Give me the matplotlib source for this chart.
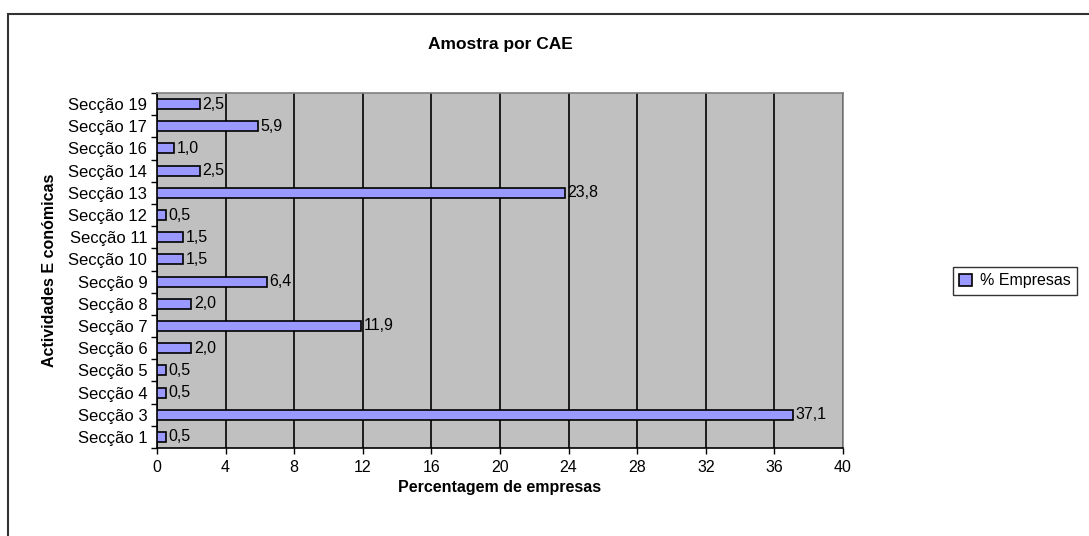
import matplotlib
matplotlib.use("Agg")
import matplotlib.pyplot as plt
from matplotlib.patches import Rectangle
import numpy as np

plt.rcParams['font.family'] = ['Liberation Sans', 'DejaVu Sans']

categories = ["Secção 1", "Secção 3", "Secção 4", "Secção 5", "Secção 6", "Secção 7",
              "Secção 8", "Secção 9", "Secção 10", "Secção 11", "Secção 12", "Secção 13",
              "Secção 14", "Secção 16", "Secção 17", "Secção 19"]
values = [0.5, 37.1, 0.5, 0.5, 2.0, 11.9, 2.0, 6.4, 1.5, 1.5, 0.5, 23.8, 2.5, 1.0, 5.9, 2.5]
xticks = [0, 4, 8, 12, 16, 20, 24, 28, 32, 36, 40]
series_name = "% Empresas"

W, H = 1089, 536
fig = plt.figure(figsize=(W / 100, H / 100), dpi=100)

# outer chart frame
fig.patches.append(Rectangle((8 / W, -0.05), 1.1, 1 - 14 / H + 0.05, transform=fig.transFigure,
                             fill=False, edgecolor='#333333', linewidth=1.5))

ax = fig.add_axes([157 / W, 1 - 448 / H, (843 - 157) / W, (448 - 93) / H])
ax.set_facecolor('#C0C0C0')
y = np.arange(len(categories))
bars = ax.barh(y, values, height=0.45, color='#9999FF', edgecolor='black', linewidth=1.2,
               label=series_name, zorder=3)
for yi, v in zip(y, values):
    ax.text(v + 0.15, yi, f"{v:.1f}".replace('.', ','), va='center', ha='left',
            fontsize=11.5, zorder=4)

ax.set_xlim(0, 40)
ax.set_ylim(-0.5, len(categories) - 0.5)
ax.set_xticks(xticks)
ax.set_xticklabels([str(t) for t in xticks], fontsize=11.5)
ax.set_yticks(y)
ax.set_yticklabels(categories, fontsize=12)
ax.tick_params(axis='y', which='major', length=0, pad=7)
ax.set_yticks(np.arange(-0.5, len(categories), 1), minor=True)
ax.tick_params(axis='y', which='minor', length=4, width=1, direction='out')
ax.tick_params(axis='x', which='major', length=4, width=1, direction='out', pad=5)
ax.xaxis.grid(True, color='black', linewidth=1.2, zorder=1)
ax.set_axisbelow(True)
for side in ['left', 'bottom']:
    ax.spines[side].set_color('black')
    ax.spines[side].set_linewidth(1.2)
for side in ['top', 'right']:
    ax.spines[side].set_color('#808080')
    ax.spines[side].set_linewidth(1.2)

ax.set_xlabel("Percentagem de empresas", fontsize=11.5, fontweight='bold', labelpad=3)
ax.set_ylabel("Actividades E conómicas", fontsize=11.5, fontweight='bold', labelpad=8)
fig.text(500 / W, 1 - 45 / H, "Amostra por CAE", ha='center', va='center',
         fontsize=12.5, fontweight='bold')

leg = fig.legend(handles=[bars], labels=[series_name], loc='center left',
                 bbox_to_anchor=(953 / W, 1 - 281 / H), fontsize=11.5, frameon=True,
                 fancybox=False, handlelength=0.8, handleheight=0.8, handletextpad=0.5,
                 borderpad=0.4, borderaxespad=0)
leg.get_frame().set_edgecolor('black')
leg.get_frame().set_linewidth(1.0)

fig.savefig("out.png", dpi=100)
